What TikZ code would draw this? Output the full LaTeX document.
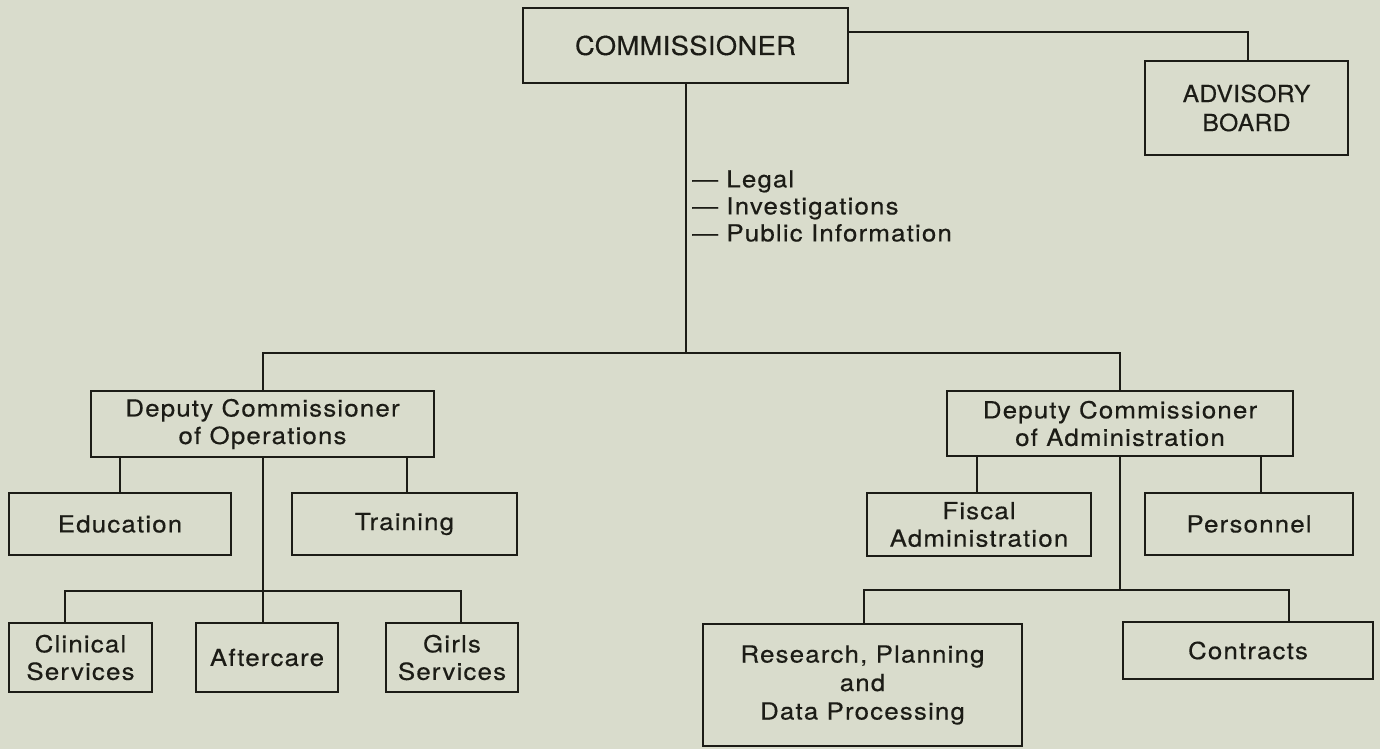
\documentclass[tikz,border=0pt]{standalone}
\usepackage{fontspec}
\setmainfont{TeX Gyre Heros}[FakeStretch=1.1,LetterSpace=5,FakeBold=0.4]
\newfontfamily\capsfont{TeX Gyre Heros}[FakeStretch=1.05,LetterSpace=1.5,FakeBold=0.4]
\definecolor{paper}{RGB}{217,220,204}
\definecolor{ink}{RGB}{28,28,22}
\begin{document}
\begin{tikzpicture}[x=1pt,y=-1pt,
  box/.style={draw=ink, line width=2pt, inner sep=0pt, align=center,
    text=ink, font=\fontsize{23.5}{27.5}\selectfont},
  conn/.style={draw=ink, line width=2pt}]
\fill[paper] (0,0) rectangle (1380,749);
\useasboundingbox (0,0) rectangle (1380,749);

% top level
\node[box, minimum width=325pt, minimum height=75pt,
  font=\capsfont\fontsize{26}{30}\selectfont] (comm) at (685.5,45.5) {COMMISSIONER};
\node[box, minimum width=203pt, minimum height=94pt,
  font=\capsfont\fontsize{23.5}{29}\selectfont] (adv) at (1246.5,108) {ADVISORY\\BOARD};
\node[anchor=west, align=left, text=ink, inner sep=0pt,
  font=\fontsize{23.5}{27}\selectfont] (staff) at (692,206)
  {— Legal\\— Investigations\\— Public Information};

% deputies
\node[box, minimum width=343pt, minimum height=66pt] (dops) at (262.5,424)
  {Deputy Commissioner\\of Operations};
\node[box, minimum width=346pt, minimum height=65pt] (dadm) at (1120,423.5)
  {Deputy Commissioner\\of Administration};

% operations units
\node[box, minimum width=222pt, minimum height=62pt] (edu) at (120,524) {Education};
\node[box, minimum width=225pt, minimum height=62pt] (trn) at (404.5,524) {Training};
\node[box, minimum width=143pt, minimum height=69pt] (clin) at (80.5,657.5) {Clinical\\Services};
\node[box, minimum width=142pt, minimum height=69pt] (aft) at (267,657.5) {Aftercare};
\node[box, minimum width=132pt, minimum height=69pt] (girls) at (452,657.5) {Girls\\Services};

% administration units
\node[box, minimum width=224pt, minimum height=63pt] (fisc) at (979,524.5) {Fiscal\\Administration};
\node[box, minimum width=208pt, minimum height=62pt] (pers) at (1249,524) {Personnel};
\node[box, minimum width=319pt, minimum height=122pt, font=\fontsize{23.5}{28.5}\selectfont] (res) at (862.5,685)
  {Research, Planning\\and\\Data Processing};
\node[box, minimum width=250pt, minimum height=57pt] (contr) at (1248,650.5) {Contracts};

% junction points
\coordinate (aj) at (1248,32);
\coordinate (tb) at (686,353);
\coordinate (ej) at (120,0);
\coordinate (tj) at (407,0);
\coordinate (cj) at (65,591);
\coordinate (gj) at (461,591);
\coordinate (fj) at (977,0);
\coordinate (pj) at (1261,0);
\coordinate (rj) at (864,590);
\coordinate (kj) at (1289,590);

% commissioner links
\draw[conn] (comm.east |- aj) -| (adv.north -| aj);
\draw[conn] (comm.south -| tb) -- (tb);
\draw[conn] (dops.north) -- (dops.north |- tb) -- (dadm.north |- tb) -- (dadm.north);

% operations links
\draw[conn] (dops.south -| ej) -- (edu.north -| ej);
\draw[conn] (dops.south -| tj) -- (trn.north -| tj);
\draw[conn] (dops.south) -- (aft.north -| dops.south);
\draw[conn] (clin.north -| cj) -- (cj) -- (gj) -- (girls.north -| gj);

% administration links
\draw[conn] (dadm.south -| fj) -- (fisc.north -| fj);
\draw[conn] (dadm.south -| pj) -- (pers.north -| pj);
\draw[conn] (dadm.south) -- (dadm.south |- rj);
\draw[conn] (res.north -| rj) -- (rj) -- (kj) -- (contr.north -| kj);
\end{tikzpicture}
\end{document}
